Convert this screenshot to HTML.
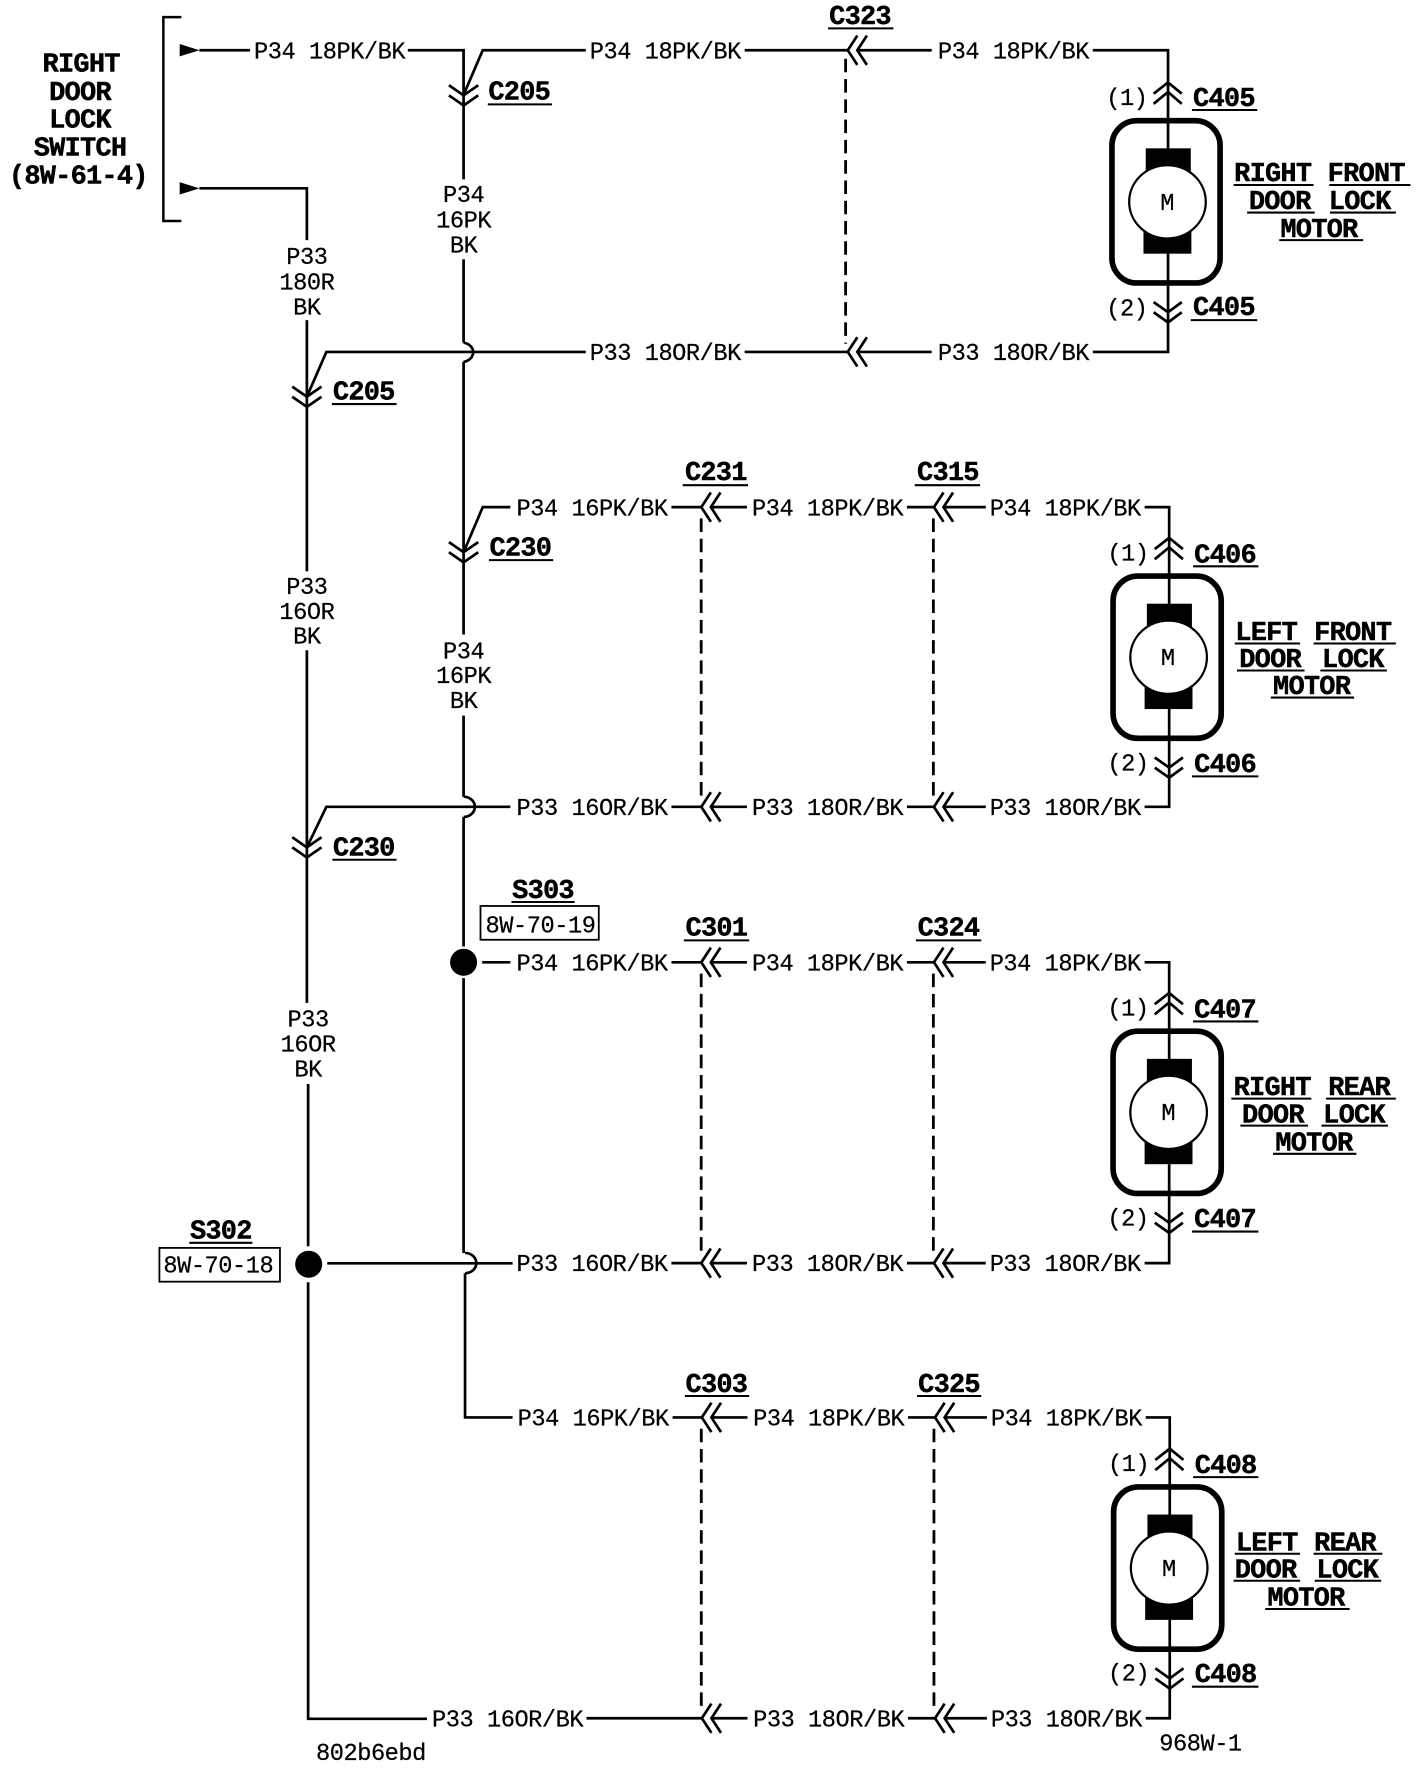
<!DOCTYPE html>
<html><head><meta charset="utf-8"><style>
html,body{margin:0;padding:0;background:#fff}
svg{display:block}
.w{fill:none;stroke:#000;stroke-width:2.4;stroke-linejoin:miter}
.d{fill:none;stroke:#000;stroke-width:2.5;stroke-dasharray:12 6}
.u{fill:none;stroke:#000;stroke-width:1.8}
text{font-family:"Liberation Mono",monospace;fill:#000;white-space:pre}
.t{font-size:21px;letter-spacing:-.4px;stroke:#000;stroke-width:.2;transform:translateY(-.8px)}
.m{text-anchor:middle}
.b{font-size:24px;font-weight:bold;letter-spacing:-.7px;stroke:#000;stroke-width:.4}
</style></head><body>
<svg xmlns="http://www.w3.org/2000/svg" width="1424" height="1768" viewBox="0 0 1264 1569" xml:space="preserve">
<rect width="1264" height="1569" fill="#fff"/>
<defs>
<path id="cl" class="w" d="M8.5,-13L0,0L8.5,13M17,-13L8.5,0L17,13"/>
<path id="cd" class="w" d="M-13,0L0,9L13,0M-13,9L0,18L13,9"/>
<g id="motor">
<path class="w" d="M1036.8,73V132M1036.8,225V286"/>
<path class="w" d="M1024,83L1036.8,73L1049,83M1024,92L1036.8,81.5L1049,92"/>
<path class="w" d="M1024,268L1036.8,277L1049,268M1024,277L1036.8,286L1049,277"/>
<rect x="987" y="107" width="96" height="144" rx="22" fill="none" stroke="#000" stroke-width="5"/>
<rect x="1017" y="131.5" width="40" height="30"/>
<rect x="1015" y="195" width="42.5" height="30"/>
<ellipse cx="1036.3" cy="179" rx="34" ry="32.5" fill="#fff" stroke="#000" stroke-width="2"/>
</g>
</defs>

<!-- switch -->
<path d="M161,15H145V196H161" fill="none" stroke="#000" stroke-width="2.2"/>
<path d="M159.5,38.9L177,44.4L159.5,49.9Z M159.5,161.5L177,167L159.5,172.5Z"/>
<text class="b m" x="72" y="63.5">RIGHT</text>
<text class="b m" x="71" y="88.5">DOOR</text>
<text class="b m" x="71" y="113">LOCK</text>
<text class="b m" x="71" y="138">SWITCH</text>
<text class="b m" x="69.5" y="162.7">(8W-61-4)</text>

<!-- left vertical -->
<path class="w" d="M177,44.4H222M177,167H272.4V213"/>
<path class="w" d="M272.4,284V507M272.4,577V890M273.5,962V1106M273.5,1138V1525.5H379"/>
<text class="t m" x="272.4" y="235">P33</text>
<text class="t m" x="272.4" y="257.4">180R</text>
<text class="t m" x="272.4" y="279.6">BK</text>
<text class="t m" x="272.4" y="528">P33</text>
<text class="t m" x="272.4" y="550">16OR</text>
<text class="t m" x="272.4" y="572">BK</text>
<text class="t m" x="273.5" y="912">P33</text>
<text class="t m" x="273.5" y="934">16OR</text>
<text class="t m" x="273.5" y="956">BK</text>

<!-- second vertical -->
<path class="w" d="M362,44.4H411.5V159M411.5,230V304M411.5,321V563M411.5,635V707M411.5,725V840M411.5,868V1112M412.8,1130V1258H455"/>
<path class="w" d="M411.5,304A10,8.6 0 0 1 411.5,321M411.5,707A10,9 0 0 1 411.5,725M412.8,1112A10,9 0 0 1 412.8,1130"/>
<text class="t m" x="411.5" y="180">P34</text>
<text class="t m" x="411.5" y="202.7">16PK</text>
<text class="t m" x="411.5" y="224.9">BK</text>
<text class="t m" x="411.5" y="585">P34</text>
<text class="t m" x="411.5" y="607">16PK</text>
<text class="t m" x="411.5" y="629">BK</text>

<!-- connectors left -->
<use href="#cd" x="411.5" y="75.5"/>
<path class="w" d="M520,44.4H428.5L411.5,84"/>
<text class="b" x="433.5" y="88">C205</text><path class="u" d="M433,92.5H490"/>
<use href="#cd" x="272.4" y="343"/>
<path class="w" d="M520,312.2H289.7L272.4,352"/>
<text class="b" x="295.5" y="354.5">C205</text><path class="u" d="M294.6,358.5H352"/>
<use href="#cd" x="411.5" y="481"/>
<path class="w" d="M453,450H428.5L411.5,490"/>
<text class="b" x="434.5" y="493">C230</text><path class="u" d="M434,497H491"/>
<use href="#cd" x="272.4" y="743"/>
<path class="w" d="M453,716H289.7L272.4,752"/>
<text class="b" x="295.5" y="759">C230</text><path class="u" d="M295,763H352"/>

<!-- splices -->
<circle cx="411.5" cy="854" r="12"/>
<path class="w" d="M428,854H453"/>
<text class="b m" x="482" y="797">S303</text><path class="u" d="M454,800.5H510"/>
<rect x="426.5" y="804" width="105" height="30" fill="none" stroke="#000" stroke-width="1.6"/>
<text class="t" x="431" y="828.5">8W-70-19</text>
<circle cx="274" cy="1122" r="12"/>
<path class="w" d="M290.5,1121.2H455"/>
<text class="b m" x="196" y="1099">S302</text><path class="u" d="M168,1103H224"/>
<rect x="141.5" y="1107.5" width="107" height="30" fill="none" stroke="#000" stroke-width="1.6"/>
<text class="t" x="145" y="1130">8W-70-18</text>

<!-- block 1 rows -->
<text class="t" x="225.5" y="52.4">P34 18PK/BK</text>
<text class="t" x="523.5" y="52.4">P34 18PK/BK</text>
<text class="t" x="832.5" y="52.4">P34 18PK/BK</text>
<text class="t" x="523.5" y="320.2">P33 18OR/BK</text>
<text class="t" x="832.5" y="320.2">P33 18OR/BK</text>
<path class="w" d="M661,44.4H752.5M761,44.4H827M970,44.4H1036.8V73"/>
<path class="w" d="M661,312.2H752.5M761,312.2H827M970,312.2H1036.8V286"/>
<use href="#cl" x="752.5" y="44.4"/><use href="#cl" x="752.5" y="312.2"/>
<path class="d" d="M750.6,52V305"/>
<text class="b" x="736" y="21.3">C323</text><path class="u" d="M735,25H793"/>

<use href="#motor"/>
<text class="t" x="982" y="94">(1)</text>
<text class="t" x="982" y="280.5">(2)</text>
<text class="b" x="1059" y="94">C405</text><path class="u" d="M1058,97.5H1116"/>
<text class="b" x="1059" y="279.6">C405</text><path class="u" d="M1057,284H1116"/>
<text class="t m" x="1036" y="187">M</text>
<text class="b" x="1095.5" y="160.7">RIGHT</text><path class="u" d="M1095,164H1166"/>
<text class="b" x="1178.5" y="160.7">FRONT</text><path class="u" d="M1180,164H1252"/>
<text class="b" x="1108.5" y="185.5">DOOR</text><path class="u" d="M1107,188.5H1167"/>
<text class="b" x="1179.5" y="185.5">LOCK</text><path class="u" d="M1180.6,188.5H1239"/>
<text class="b" x="1136.5" y="210">MOTOR</text><path class="u" d="M1135.5,213H1210"/>

<!-- block 2 rows -->
<text class="t" x="458.5" y="458">P34 16PK/BK</text>
<text class="t" x="667.5" y="458">P34 18PK/BK</text>
<text class="t" x="878.5" y="458">P34 18PK/BK</text>
<text class="t" x="458.5" y="724">P33 16OR/BK</text>
<text class="t" x="667.5" y="724">P33 18OR/BK</text>
<text class="t" x="878.5" y="724">P33 18OR/BK</text>
<path class="w" d="M596,450H622.5M631,450H663M805,450H829M838,450H875M1016,450H1037.8V477"/>
<path class="w" d="M596,716H622.5M631,716H663M805,716H829M838,716H875M1016,716H1037.8V690"/>
<use href="#cl" x="622.5" y="450"/><use href="#cl" x="829" y="450"/>
<use href="#cl" x="622.5" y="716"/><use href="#cl" x="829" y="716"/>
<path class="d" d="M622.4,460V708M828.5,460V708"/>
<text class="b" x="608" y="426">C231</text><path class="u" d="M606,430.5H664"/>
<text class="b" x="814" y="426">C315</text><path class="u" d="M812,430.5H870"/>
<use href="#motor" x="1" y="404.2"/>
<text class="t" x="983" y="498">(1)</text>
<text class="t" x="983" y="684.5">(2)</text>
<text class="b" x="1060" y="499">C406</text><path class="u" d="M1059,502.5H1117"/>
<text class="b" x="1060" y="685">C406</text><path class="u" d="M1058,689H1117"/>
<text class="t m" x="1036.5" y="591">M</text>
<text class="b" x="1096.5" y="568">LEFT</text><path class="u" d="M1096,571H1154"/>
<text class="b" x="1166.5" y="568">FRONT</text><path class="u" d="M1166,571H1239"/>
<text class="b" x="1100" y="592">DOOR</text><path class="u" d="M1098,595H1158"/>
<text class="b" x="1173.5" y="592">LOCK</text><path class="u" d="M1172,595H1231"/>
<text class="b" x="1130" y="616">MOTOR</text><path class="u" d="M1128,619H1202"/>

<!-- block 3 rows -->
<text class="t" x="458.5" y="862">P34 16PK/BK</text>
<text class="t" x="667.5" y="862">P34 18PK/BK</text>
<text class="t" x="878.5" y="862">P34 18PK/BK</text>
<text class="t" x="458.5" y="1129">P33 16OR/BK</text>
<text class="t" x="667.5" y="1129">P33 18OR/BK</text>
<text class="t" x="878.5" y="1129">P33 18OR/BK</text>
<path class="w" d="M596,854H622.5M631,854H663M805,854H829M838,854H875M1016,854H1037.8V881"/>
<path class="w" d="M596,1121H622.5M631,1121H663M805,1121H829M838,1121H875M1016,1121H1037.8V1094"/>
<use href="#cl" x="622.5" y="854"/><use href="#cl" x="829" y="854"/>
<use href="#cl" x="622.5" y="1121"/><use href="#cl" x="829" y="1121"/>
<path class="d" d="M622.4,864V1113M828.5,864V1113"/>
<text class="b" x="608.5" y="830">C301</text><path class="u" d="M607,834.5H665"/>
<text class="b" x="814.5" y="830">C324</text><path class="u" d="M813,834.5H871"/>
<use href="#motor" x="1" y="808.2"/>
<text class="t" x="983" y="902">(1)</text>
<text class="t" x="983" y="1088.5">(2)</text>
<text class="b" x="1060" y="903">C407</text><path class="u" d="M1059,906.5H1117"/>
<text class="b" x="1060" y="1089">C407</text><path class="u" d="M1058,1093H1117"/>
<text class="t m" x="1037" y="995">M</text>
<text class="b" x="1095" y="972">RIGHT</text><path class="u" d="M1093,975H1164"/>
<text class="b" x="1179" y="972">REAR</text><path class="u" d="M1177,975H1239"/>
<text class="b" x="1102.5" y="996">DOOR</text><path class="u" d="M1101,999H1161"/>
<text class="b" x="1174.5" y="996">LOCK</text><path class="u" d="M1173,999H1232"/>
<text class="b" x="1132" y="1021">MOTOR</text><path class="u" d="M1130,1024H1204"/>

<!-- block 4 rows -->
<text class="t" x="459.5" y="1266">P34 16PK/BK</text>
<text class="t" x="668.5" y="1266">P34 18PK/BK</text>
<text class="t" x="879.5" y="1266">P34 18PK/BK</text>
<text class="t" x="383.5" y="1533">P33 16OR/BK</text>
<text class="t" x="668.5" y="1533">P33 18OR/BK</text>
<text class="t" x="879.5" y="1533">P33 18OR/BK</text>
<path class="w" d="M597,1258H623.5M632,1258H663.5M806,1258H830M839,1258H876M1017,1258H1038.3V1285"/>
<path class="w" d="M520.6,1525H623.5M632,1525H663.5M806,1525H830M839,1525H876M1017,1525H1038.3V1498"/>
<use href="#cl" x="623" y="1258"/><use href="#cl" x="830" y="1258"/>
<use href="#cl" x="623" y="1525"/><use href="#cl" x="830" y="1525"/>
<path class="d" d="M622.5,1268V1517M829,1268V1517"/>
<text class="b" x="608.5" y="1235.3">C303</text><path class="u" d="M608,1239H665"/>
<text class="b" x="815" y="1235.3">C325</text><path class="u" d="M814,1239H871"/>
<use href="#motor" x="1.5" y="1212.7"/>
<text class="t" x="983.5" y="1306.5">(1)</text>
<text class="t" x="983.5" y="1492.5">(2)</text>
<text class="b" x="1060.5" y="1307.5">C408</text><path class="u" d="M1059,1311H1117"/>
<text class="b" x="1060.5" y="1493">C408</text><path class="u" d="M1058,1497H1117"/>
<text class="t m" x="1037.5" y="1399.5">M</text>
<text class="b" x="1097" y="1376">LEFT</text><path class="u" d="M1096,1379H1154"/>
<text class="b" x="1166.5" y="1376">REAR</text><path class="u" d="M1166,1379H1227"/>
<text class="b" x="1096" y="1400">DOOR</text><path class="u" d="M1095,1403H1154"/>
<text class="b" x="1168.5" y="1400">LOCK</text><path class="u" d="M1167,1403H1226"/>
<text class="b" x="1125" y="1425">MOTOR</text><path class="u" d="M1123,1428H1198"/>

<text class="t" x="280.5" y="1563">802b6ebd</text>
<text class="t" x="1029" y="1554.6">968W-1</text>
</svg>
</body></html>
